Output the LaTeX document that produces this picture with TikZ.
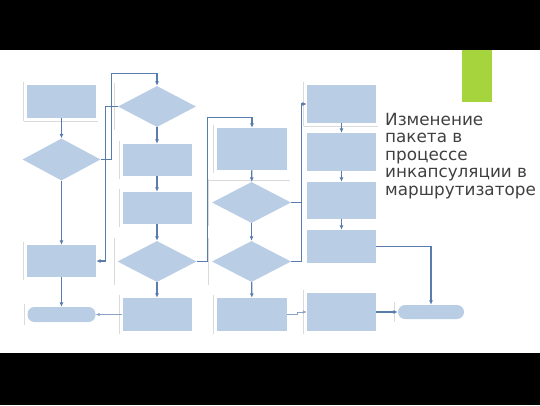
\documentclass[tikz,border=0pt]{standalone}
\usepackage{fontspec}
\newfontfamily\capfont{DejaVu Sans}
\usepackage{tikz}
\usetikzlibrary{arrows, arrows.meta, shapes.geometric, positioning, calc}
\definecolor{boxblue}{RGB}{185,205,229}
\definecolor{lineblue}{RGB}{88,124,172}
\definecolor{barlime}{RGB}{166,212,60}
\definecolor{capgray}{RGB}{64,64,64}
\definecolor{framegray}{RGB}{218,218,218}

\begin{document}
\begin{tikzpicture}[x=1pt, y=1pt,
  block/.style={rectangle, fill=boxblue, inner sep=0pt, minimum width=69pt},
  decision/.style={diamond, fill=boxblue, inner sep=0pt, minimum width=79pt, minimum height=41pt},
  terminal/.style={rectangle, rounded corners=7pt, fill=boxblue, inner sep=0pt, minimum width=68pt, minimum height=15pt},
  link/.style={draw=lineblue, line width=1.1pt, -{Latex[length=4.5pt,width=4pt]}},
  thinlink/.style={draw=lineblue!70, line width=0.7pt, -{Latex[length=4pt,width=3.5pt]}},
  wire/.style={draw=lineblue, line width=1.1pt},
  ghost/.style={draw=framegray, line width=0.7pt}]
\useasboundingbox (0,0) rectangle (540,-405);
\fill[black] (0,0) rectangle (540,-50);
\fill[black] (0,-353) rectangle (540,-405);
\fill[barlime] (462,-50) rectangle (492,-102);

% first column
\node (col1top)[block, minimum height=33pt] at (61.5,-101.5) {};
\node (col1dia)[decision, minimum width=78pt, minimum height=42pt] at (61.5,-159.5) {};
\node (col1low)[block, minimum height=32pt] at (61.5,-261) {};
\node (col1end)[terminal] at (61.5,-314.5) {};

% second column
\node (col2dia)[decision, minimum width=78pt] at (157,-106.5) {};
\node (col2up)[block, minimum height=32pt] at (157,-160) {};
\node (col2mid)[block, minimum height=32pt] at (157,-208) {};
\node (col2dib)[decision] at (157,-261.5) {};
\node (col2low)[block, minimum height=33pt] at (157,-314.5) {};

% third column
\node (col3top)[block, minimum width=70pt, minimum height=42pt] at (252,-149) {};
\node (col3dia)[decision] at (251.5,-202.5) {};
\node (col3dib)[decision] at (251.5,-261.5) {};
\node (col3low)[block, minimum width=70pt, minimum height=33pt] at (252,-314.5) {};

% fourth column
\node (col4a)[block, minimum height=38pt] at (341.5,-104) {};
\node (col4b)[block, minimum height=38pt] at (341.5,-152) {};
\node (col4c)[block, minimum height=37pt] at (341.5,-200.5) {};
\node (col4d)[block, minimum height=33pt] at (341.5,-246.5) {};
\node (col4e)[block, minimum height=38pt] at (341.5,-312) {};
\node (finish)[terminal, minimum width=66pt, minimum height=14pt] at (431,-312) {};

% faint frames left of the shapes
\foreach \n in {col1top,col1low,col1end,col2dia,col2up,col2mid,col2dib,col2low,col3top,col3dia,col3dib,col3low,col4a,col4e,finish}
  \draw[ghost] ($(\n.west |- \n.north)+(-3,3)$) -- ($(\n.west |- \n.south)+(-3,-3)$);
\draw[ghost] ($(col1top.west |- col1top.south)+(-3,-3)$) -- ($(col1top.south east)+(2,-3)$);
\draw[ghost] ($(col3top.west |- col3top.south)+(-8,-10)$) -- ($(col3top.south east)+(3,-10)$);
\draw[ghost] ($(col4a.west |- col4a.south)+(-3,-3)$) -- ($(col4a.south east)+(2,-3)$);

\node (caption)[anchor=north west, align=left, inner sep=0pt, text=capgray,
  font=\capfont\fontsize{16.8}{17.5}\selectfont] at (385,-113)
  {Изменение\\пакета в\\процессе\\инкапсуляции в\\маршрутизаторе};

\draw[link] (col1top) -- (col1dia);
\draw[link] (col1dia) -- (col1low);
\draw[link] (col1low) -- (col1end);
\draw[link] (col1dia.east) -- ++(11,0) |- ([yshift=12pt]col2dia.north) -- (col2dia.north);
\draw[link] (col2dia.west) -- ++(-12,0) |- (col1low.east);
\draw[link] (col2dia) -- (col2up);
\draw[link] (col2up) -- (col2mid);
\draw[link] (col2mid) -- (col2dib);
\draw[link] (col2dib) -- (col2low);
\draw[thinlink] (col2low.west) -- (col1end.east);
\draw[link] (col2dib.east) -- ++(11,0) |- ([yshift=10pt]col3top.north) -- (col3top.north);
\draw[link] (col3top) -- (col3dia);
\draw[link] (col3dia) -- (col3dib);
\draw[link] (col3dib) -- (col3low);
\draw[link] (col3dia.east) -- ++(10,0) |- (col4a.west);
\draw[wire] (col3dib.east) -| ([xshift=10pt]col3dia.east);
\draw[link] (col4a) -- (col4b);
\draw[link] (col4b) -- (col4c);
\draw[link] (col4c) -- (col4d);
\draw[link] (col4d.east) -| (finish.north);
\draw[thinlink] (col3low.east) -- ++(10,0) |- (col4e.west);
\draw[link] (col4e.east) -- (finish.west);
\end{tikzpicture}
\end{document}
